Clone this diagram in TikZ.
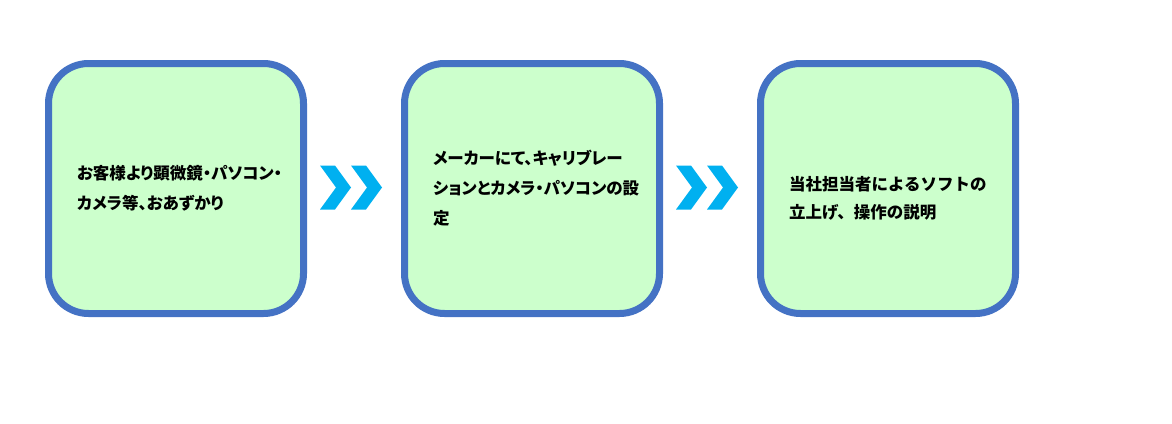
\documentclass[tikz,border=0pt]{standalone}
\usepackage{fontspec}
\usepackage{xcolor}
\usepackage{tikz}
\usetikzlibrary{positioning}

\newfontfamily\jpfont{Noto Sans CJK JP}[RawFeature=+palt]
\newfontfamily\jpwide{Noto Sans CJK JP}
\definecolor{boxblue}{RGB}{68,114,196}
\definecolor{boxgreen}{RGB}{204,255,204}
\definecolor{chevblue}{RGB}{0,176,240}

\begin{document}
\begin{tikzpicture}[
  x=1pt, y=1pt,
  node distance=94pt,
  stepbox/.style={draw=boxblue, line width=7pt, fill=boxgreen,
              rounded corners=40pt, minimum width=255pt, minimum height=250pt,
              text width=198pt, align=left,
              font=\jpfont\bfseries\fontsize{16.5pt}{30pt}\selectfont},
  widebox/.style={stepbox,
              font=\jpwide\bfseries\fontsize{16.5pt}{28pt}\selectfont},
  chev/.style={fill=chevblue},
]
\useasboundingbox (0,0) rectangle (1172,-423);
\node[stepbox] (recv) at (176,-188.5)
  {お客様より顕微鏡・パソコン・\\カメラ等、おあずかり};
\node[stepbox, right=of recv] (calib)
  {メーカーにて、キャリブレー\\ションとカメラ・パソコンの設\\定};
\node[widebox, right=of calib] (expl)
  {\rule{0pt}{34pt}当社担当者によるソフトの\\立上げ、操作の説明};
% chevrons between the steps
\foreach \a/\b in {recv/calib, calib/expl}{
  \path (\a.east) -- coordinate[midway] (mid) (\b.west);
  \foreach \dx in {-34,-3}
    \fill[chev] ([xshift=\dx pt]mid) ++(0,23) -- ++(15,0) -- ++(16,-22)
      -- ++(-16,-22) -- ++(-15,0) -- ++(16,22) -- cycle;
}
\end{tikzpicture}
\end{document}
